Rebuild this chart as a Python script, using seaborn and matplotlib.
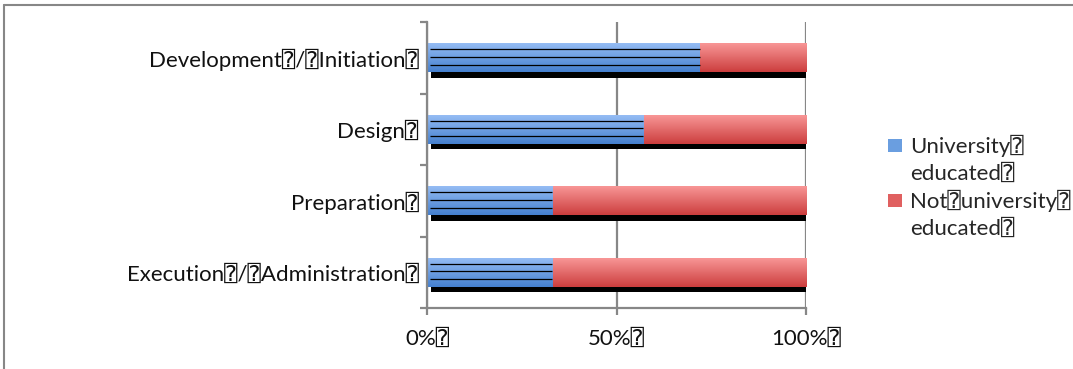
import numpy as np
import pandas as pd
import matplotlib
matplotlib.use("Agg")
import matplotlib.pyplot as plt
import matplotlib.patheffects as pe
from matplotlib.patches import Patch
from matplotlib.lines import Line2D
import seaborn as sns

# ---- data ----
categories = ["Development⍰/⍰Initiation⍰", "Design⍰", "Preparation⍰",
              "Execution⍰/⍰Administration⍰"]
university = [72, 57, 33, 33]
not_university = [28, 43, 67, 67]
x_ticks = [0, 50, 100]
x_tick_labels = ["0%⍰", "50%⍰", "100%⍰"]
legend_labels = ["University⍰", "educated⍰", "Not⍰university⍰", "educated⍰"]

sns.set_theme(style="white")
plt.rcParams["font.family"] = ["Lato", "DejaVu Sans", "DejaVu Sans Mono"]

FS = 16
GRAY = "#878787"
blue_top, blue_bot = np.array([0x95, 0xBC, 0xF4]) / 255, np.array([0x45, 0x80, 0xCF]) / 255
red_top, red_bot = np.array([0xF8, 0x96, 0x96]) / 255, np.array([0xCC, 0x3E, 0x3E]) / 255

df = pd.DataFrame({"cat": categories,
                   "uni": university,
                   "total": np.array(university) + np.array(not_university)})

fig = plt.figure(figsize=(10.73, 3.69), dpi=100)
ax = fig.add_axes([427 / 1073, 1 - 308 / 369, (806 - 427) / 1073, (308 - 22) / 369])

sns.barplot(data=df, x="total", y="cat", orient="h", color="#E06060",
            width=0.4, ax=ax, zorder=1.0, saturation=1)
n_red = len(ax.patches)
sns.barplot(data=df, x="uni", y="cat", orient="h", color="#6A9EE0",
            width=0.4, ax=ax, zorder=1.2, saturation=1)

xlim = (0, 100)
ylim = (len(categories) - 0.5, -0.5)


def gradient(top, bot, n=64):
    t = np.linspace(0, 1, n)[:, None]
    g = top[None, :] * (1 - t) + bot[None, :] * t
    return g[:, None, :]


for i, p in enumerate(ax.patches):
    is_red = i < n_red
    p.set_edgecolor("none")
    p.set_linewidth(0)
    x0, y0 = p.get_x(), p.get_y()
    w, h = p.get_width(), p.get_height()
    ytop, ybot = min(y0, y0 + h), max(y0, y0 + h)
    if is_red:
        p.set_path_effects([pe.SimplePatchShadow(offset=(3, -4), shadow_rgbFace="black",
                                                 alpha=1.0), pe.Normal()])
        g = gradient(red_top, red_bot)
        z = 1.1
    else:
        g = gradient(blue_top, blue_bot)
        z = 1.3
    # row 0 (light colour) is placed at ytop, which is the visual top (inverted y axis)
    im = ax.imshow(g, extent=(x0, x0 + w, ybot, ytop), origin="upper",
                   aspect="auto", zorder=z, interpolation="bilinear")
    im.set_clip_path(p)
    if not is_red:
        for f in (0.2, 0.47, 0.74):
            yy = ytop + f * (ybot - ytop)
            ax.hlines(yy, x0 + 0.8, x0 + w, colors="black", linewidth=0.9, zorder=1.4)

ax.set_xlim(*xlim)
ax.set_ylim(*ylim)

# axes styling
ax.set_xlabel("")
ax.set_ylabel("")
for s in ("top", "right"):
    ax.spines[s].set_visible(False)
for s in ("left", "bottom"):
    ax.spines[s].set_color(GRAY)
    ax.spines[s].set_linewidth(1.6)

ax.set_axisbelow(True)
ax.xaxis.grid(True, color=GRAY, linewidth=1.6)
ax.yaxis.grid(False)

ax.set_xticks(x_ticks)
ax.set_xticklabels(x_tick_labels, fontsize=FS, color="#111111")
ax.tick_params(axis="x", which="major", direction="out", length=5, width=1.6,
               color=GRAY, pad=10, bottom=True)

ax.set_yticks(range(len(categories)))
ax.set_yticklabels(categories, fontsize=FS, color="#111111")
ax.tick_params(axis="y", which="major", length=0, pad=6)
ax.set_yticks(np.arange(-0.5, len(categories), 1.0), minor=True)
ax.tick_params(axis="y", which="minor", direction="out", length=5, width=1.6,
               color=GRAY, left=True)

# legend
handles = [Patch(facecolor="#6A9EE0", edgecolor="none"),
           Patch(facecolor="none", edgecolor="none"),
           Patch(facecolor="#E06060", edgecolor="none"),
           Patch(facecolor="none", edgecolor="none")]
ax.legend(handles, legend_labels, loc="upper left",
          bbox_to_anchor=(888 / 1073, 1 - 135 / 369), bbox_transform=fig.transFigure,
          frameon=False, fontsize=FS, handlelength=0.65, handleheight=0.5,
          handletextpad=0.35, labelspacing=0.28, borderaxespad=0, borderpad=0)

# outer chart frame
fig.add_artist(Line2D([4 / 1073, 1.0], [1 - 5 / 369, 1 - 5 / 369],
                      transform=fig.transFigure, color=GRAY, linewidth=1.5))
fig.add_artist(Line2D([4 / 1073, 4 / 1073], [0, 1 - 5 / 369],
                      transform=fig.transFigure, color=GRAY, linewidth=1.5))

fig.savefig("out.png", dpi=100, facecolor="white")
